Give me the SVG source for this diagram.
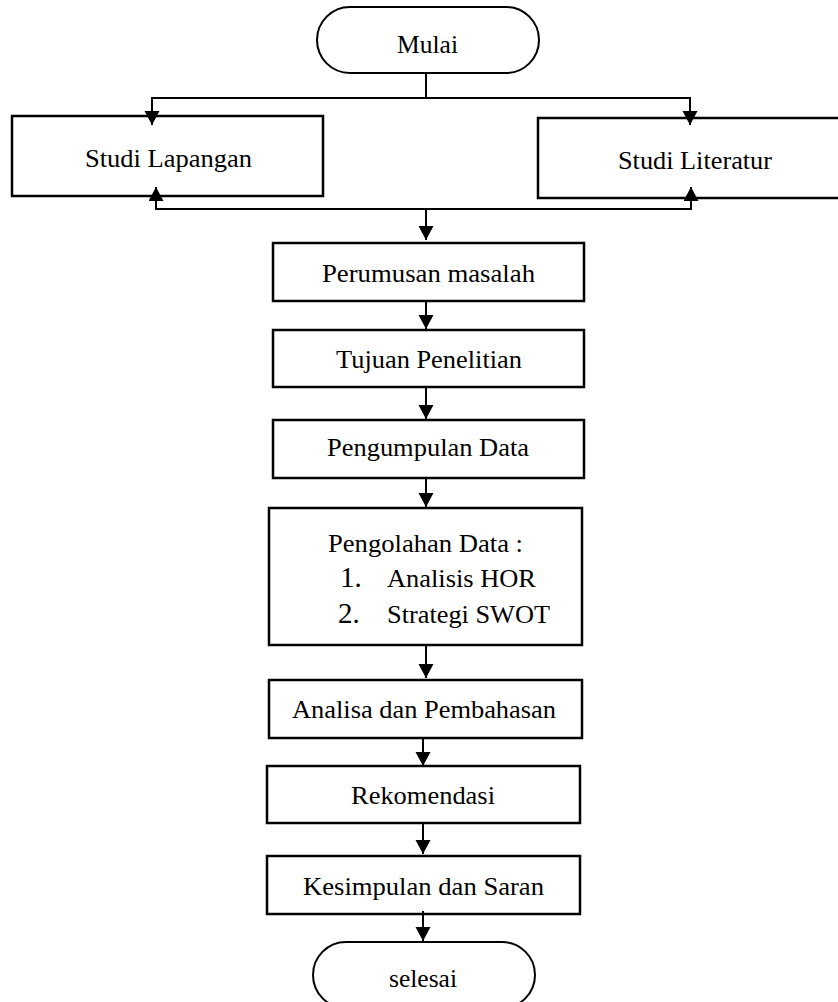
<svg xmlns="http://www.w3.org/2000/svg" width="838" height="1002" viewBox="0 0 838 1002">
<style>
.box{fill:#fff;stroke:#000;stroke-width:2.5}
.term{fill:#fff;stroke:#000;stroke-width:2}
.t{font-family:"Liberation Serif","Times New Roman",Times,serif;font-size:24.5px;fill:#000}
.n{font-family:"Liberation Serif","Times New Roman",Times,serif;font-size:29px;fill:#000}
.c{fill:none;stroke:#000;stroke-width:2}
</style>
<defs>
<marker id="ah" markerUnits="userSpaceOnUse" markerWidth="16" markerHeight="16" refX="14" refY="7.5" orient="auto">
<path d="M0,0 L14,7.5 L0,15 z" fill="#000"/>
</marker>
</defs>
<rect width="838" height="1002" fill="#fff"/>
<g id="mulai">
<rect class="term" x="317" y="7" width="222" height="66" rx="33" ry="33"/>
<text class="t" x="397" y="53" textLength="61" lengthAdjust="spacingAndGlyphs">Mulai</text>
</g>
<g id="studi-lapangan">
<rect class="box" x="12" y="116" width="311" height="80"/>
<text class="t" x="85" y="167" textLength="167" lengthAdjust="spacingAndGlyphs">Studi Lapangan</text>
</g>
<g id="studi-literatur">
<rect class="box" x="538" y="118" width="310" height="80"/>
<text class="t" x="618" y="169" textLength="154" lengthAdjust="spacingAndGlyphs">Studi Literatur</text>
</g>
<g id="perumusan">
<rect class="box" x="273" y="243" width="311" height="58"/>
<text class="t" x="322" y="282" textLength="213" lengthAdjust="spacingAndGlyphs">Perumusan masalah</text>
</g>
<g id="tujuan">
<rect class="box" x="273" y="330" width="311" height="57"/>
<text class="t" x="336" y="368" textLength="186" lengthAdjust="spacingAndGlyphs">Tujuan Penelitian</text>
</g>
<g id="pengumpulan">
<rect class="box" x="273" y="420" width="311" height="58"/>
<text class="t" x="327" y="456" textLength="202" lengthAdjust="spacingAndGlyphs">Pengumpulan Data</text>
</g>
<g id="pengolahan">
<rect class="box" x="269" y="508" width="313" height="137"/>
<text class="t" x="328" y="552" textLength="195" lengthAdjust="spacingAndGlyphs">Pengolahan Data :</text>
<text class="n" x="340" y="587">1.</text>
<text class="t" x="387" y="587" textLength="149" lengthAdjust="spacingAndGlyphs">Analisis HOR</text>
<text class="n" x="338" y="623">2.</text>
<text class="t" x="387" y="623" textLength="163" lengthAdjust="spacingAndGlyphs">Strategi SWOT</text>
</g>
<g id="analisa">
<rect class="box" x="269" y="680" width="313" height="58"/>
<text class="t" x="292" y="718" textLength="264" lengthAdjust="spacingAndGlyphs">Analisa dan Pembahasan</text>
</g>
<g id="rekomendasi">
<rect class="box" x="267" y="766" width="313" height="57"/>
<text class="t" x="351" y="804" textLength="144" lengthAdjust="spacingAndGlyphs">Rekomendasi</text>
</g>
<g id="kesimpulan">
<rect class="box" x="267" y="856" width="313" height="58"/>
<text class="t" x="303" y="895" textLength="241" lengthAdjust="spacingAndGlyphs">Kesimpulan dan Saran</text>
</g>
<g id="selesai">
<rect class="term" x="313" y="942" width="222" height="66" rx="33" ry="33"/>
<text class="t" x="389" y="987" textLength="68" lengthAdjust="spacingAndGlyphs">selesai</text>
</g>
<g id="connectors">
<polyline class="c" points="426,73 426,98"/>
<polyline class="c" points="151,98 691,98"/>
<line class="c" x1="152" y1="97" x2="152" y2="125" marker-end="url(#ah)"/>
<line class="c" x1="690" y1="97" x2="690" y2="125" marker-end="url(#ah)"/>
<polyline class="c" points="155,209 692,209"/>
<line class="c" x1="156" y1="210" x2="156" y2="187" marker-end="url(#ah)"/>
<line class="c" x1="691" y1="210" x2="691" y2="187" marker-end="url(#ah)"/>
<line class="c" x1="426" y1="209" x2="426" y2="240" marker-end="url(#ah)"/>
<line class="c" x1="426" y1="301" x2="426" y2="329" marker-end="url(#ah)"/>
<line class="c" x1="426" y1="387" x2="426" y2="419" marker-end="url(#ah)"/>
<line class="c" x1="426" y1="478" x2="426" y2="507" marker-end="url(#ah)"/>
<line class="c" x1="426" y1="645" x2="426" y2="678" marker-end="url(#ah)"/>
<line class="c" x1="423" y1="738" x2="423" y2="766" marker-end="url(#ah)"/>
<line class="c" x1="423" y1="823" x2="423" y2="854" marker-end="url(#ah)"/>
<line class="c" x1="423" y1="911" x2="423" y2="941" marker-end="url(#ah)"/>
</g>
</svg>
